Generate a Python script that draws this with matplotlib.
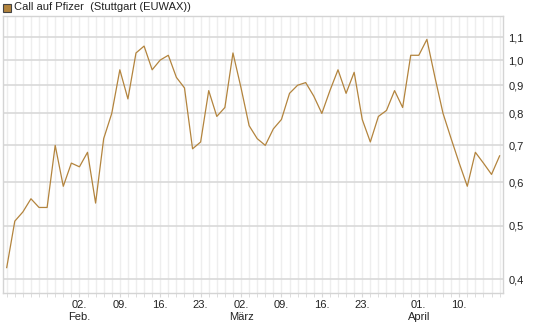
#import modules
import matplotlib
matplotlib.use("Agg")
import matplotlib.pyplot as plt
from matplotlib.ticker import FixedLocator, NullFormatter, NullLocator
import numpy as np

plt.rcParams['font.family'] = ['Liberation Sans', 'DejaVu Sans']

#data: one value per trading day (20 Jan .. 17 Apr)
prices = [0.42, 0.51, 0.53, 0.56, 0.54, 0.54, 0.70, 0.59, 0.65, 0.64,
          0.68, 0.55, 0.72, 0.80, 0.96, 0.85, 1.03, 1.06, 0.96, 1.00,
          1.02, 0.93, 0.89, 0.69, 0.71, 0.88, 0.79, 0.82, 1.03, 0.89,
          0.76, 0.72, 0.70, 0.75, 0.78, 0.87, 0.90, 0.91, 0.86, 0.80,
          0.88, 0.96, 0.87, 0.95, 0.78, 0.71, 0.79, 0.81, 0.88, 0.82,
          1.02, 1.02, 1.09, 0.93, 0.80, 0.72, 0.65, 0.59, 0.68, 0.65,
          0.62, 0.67]
tick_days = [9, 14, 19, 24, 29, 34, 39, 44, 51, 56]
tick_labels = ['02.\nFeb.', '09.', '16.', '23.', '02.\nMärz',
               '09.', '16.', '23.', '01.\nApril', '10.']
y_ticks = [0.4, 0.5, 0.6, 0.7, 0.8, 0.9, 1.0, 1.1]
y_labels = ['0,4', '0,5', '0,6', '0,7', '0,8', '0,9', '1,0', '1,1']

line_color = '#b3843d'
days = np.arange(len(prices))

#figure
fig = plt.figure(figsize=(5.45, 3.27), dpi=100)
ax = fig.add_axes([3 / 545, 1 - 293 / 327, 500 / 545, 277 / 327])

ax.plot(days, prices, color=line_color, linewidth=0.9)

ax.set_yscale('log')
ax.set_ylim(0.3777, 1.202)
ax.set_xlim(-0.46, 61.42)

#y axis on the right
ax.yaxis.tick_right()
ax.yaxis.set_major_locator(FixedLocator(y_ticks))
ax.yaxis.set_minor_locator(NullLocator())
ax.yaxis.set_minor_formatter(NullFormatter())
ax.set_yticklabels(y_labels)
ax.tick_params(axis='y', length=0, pad=4, labelsize=8, labelcolor='#222222')

#x axis
ax.set_xticks(tick_days)
ax.set_xticklabels(tick_labels)
ax.set_xticks(days, minor=True)
ax.tick_params(axis='x', which='both', length=3, color='#d8d8d8', pad=2,
               labelsize=8, labelcolor='#222222')

#grid
ax.grid(axis='x', which='both', color='#eeeeee', linewidth=1.0)
ax.grid(axis='y', which='major', color='#d9d9d9', linewidth=1.2)
ax.set_axisbelow(True)

for s in ax.spines.values():
    s.set_color('#d4d4d4')
    s.set_linewidth(1.0)

#legend
fig.patches.append(plt.Rectangle((3 / 545, 1 - 12 / 327), 8 / 545, 8 / 327,
                                 transform=fig.transFigure, facecolor=line_color,
                                 edgecolor='#444444', linewidth=0.8))
fig.text(14 / 545, 1 - 7.5 / 327, 'Call auf Pfizer  (Stuttgart (EUWAX))',
         fontsize=8, color='#222222', va='center', ha='left')

fig.savefig('out.png', dpi=100)
